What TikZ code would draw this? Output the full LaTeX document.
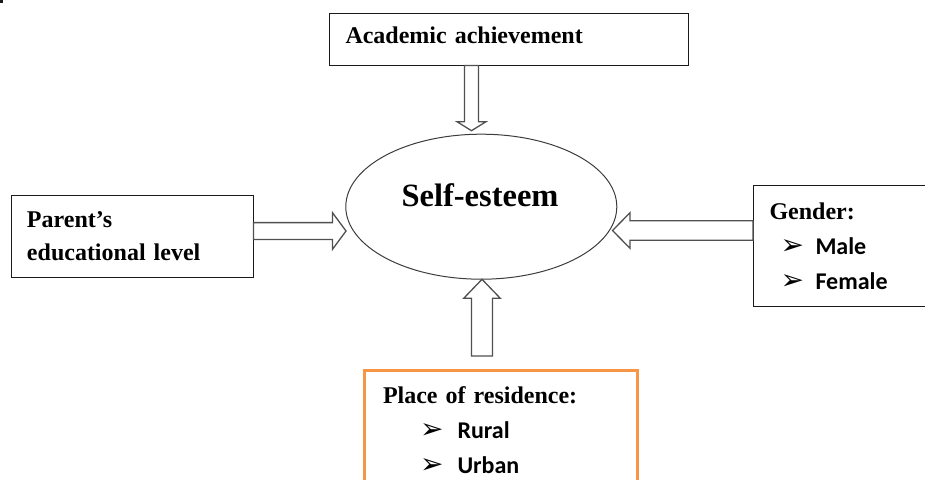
\documentclass[tikz,border=0pt]{standalone}
\usepackage{fontspec}
\setmainfont{Liberation Serif}
\newfontfamily\calibfont{Carlito}
\newfontfamily\symfont{DejaVu Sans}
\usetikzlibrary{calc,shapes.geometric}
\definecolor{boxInk}{HTML}{1A1A1A}
\definecolor{arrowGray}{HTML}{505050}
\definecolor{resOrange}{HTML}{F79646}
\newcommand{\itemarrow}{{\symfont\fontsize{28}{20}\selectfont ➢}}

\begin{document}
\begin{tikzpicture}[x=1pt,y=-1pt,line join=miter]
\useasboundingbox (0,0) rectangle (925,479);
\clip (0,0) rectangle (925,479);
\tikzset{frame/.style={draw=boxInk,line width=1pt,fill=white,inner xsep=16pt,inner ysep=0pt,align=left,font=\bfseries\fontsize{24}{35}\selectfont},
  hollow/.style={draw=arrowGray,line width=1.3pt,fill=white}}
\fill[boxInk] (0,0) rectangle (3,3);
% the four factors
\node[frame,text width=327pt,minimum height=52pt,text depth=8pt] (acad) at (509,39) {Academic achievement};
\node[frame,text width=210pt,minimum height=82pt] (parent) at (132,236) {Parent’s\\[-2.5pt]educational level};
\node[frame,anchor=north west,text width=168pt,minimum height=121pt] (gender) at (753,185)
  {Gender:\\\hspace*{11pt}\makebox[35pt][l]{\itemarrow}{\calibfont Male}\\\hspace*{11pt}\makebox[35pt][l]{\itemarrow}{\calibfont Female}};
\node[frame,draw=resOrange,line width=3pt,inner xsep=18.5pt,anchor=north west,text width=236pt,minimum height=120pt] (res) at (363,369)
  {Place of residence:\\\hspace*{37pt}\makebox[37.5pt][l]{\itemarrow}{\calibfont Rural}\\\hspace*{37pt}\makebox[37.5pt][l]{\itemarrow}{\calibfont Urban}};
% outcome
\node[draw=boxInk!85,line width=1pt,ellipse,minimum width=271pt,minimum height=145pt,inner sep=0pt] (self) at (481.3,206.7) {};
\node[font=\bfseries\fontsize{32.5}{36}\selectfont,anchor=base] (selfLabel) at (480,206) {Self-esteem};
% block arrows
\coordinate (tipA) at (471.5,130.7);
\coordinate (baseA) at (acad.south -| tipA);
\draw[hollow] ($(baseA)+(-7,0)$) -- ($(tipA)+(-7,-9)$) -- ($(tipA)+(-14.5,-9)$) -- (tipA) -- ($(tipA)+(14.5,-9)$) -- ($(tipA)+(7,-9)$) -- ($(baseA)+(7,0)$) -- cycle;
\coordinate (tipP) at (346,231);
\coordinate (baseP) at (parent.east |- tipP);
\draw[hollow] ($(baseP)+(0,-8.4)$) -- ($(tipP)+(-13.5,-8.4)$) -- ($(tipP)+(-13.5,-18.3)$) -- (tipP) -- ($(tipP)+(-13.5,18.3)$) -- ($(tipP)+(-13.5,8.4)$) -- ($(baseP)+(0,8.4)$) -- cycle;
\coordinate (tipG) at (612.5,230.5);
\coordinate (baseG) at (gender.west |- tipG);
\draw[hollow] ($(baseG)+(0,-9.7)$) -- ($(tipG)+(17.5,-9.7)$) -- ($(tipG)+(17.5,-17.8)$) -- (tipG) -- ($(tipG)+(17.5,17.8)$) -- ($(tipG)+(17.5,9.7)$) -- ($(baseG)+(0,9.7)$) -- cycle;
\coordinate (tipR) at (482,279.3);
\coordinate (baseR) at ($(tipR)+(0,76.7)$);
\draw[hollow] ($(baseR)+(-10.5,0)$) -- ($(tipR)+(-10.5,19)$) -- ($(tipR)+(-18.3,19)$) -- (tipR) -- ($(tipR)+(18.3,19)$) -- ($(tipR)+(10.5,19)$) -- ($(baseR)+(10.5,0)$) -- cycle;
\end{tikzpicture}
\end{document}
